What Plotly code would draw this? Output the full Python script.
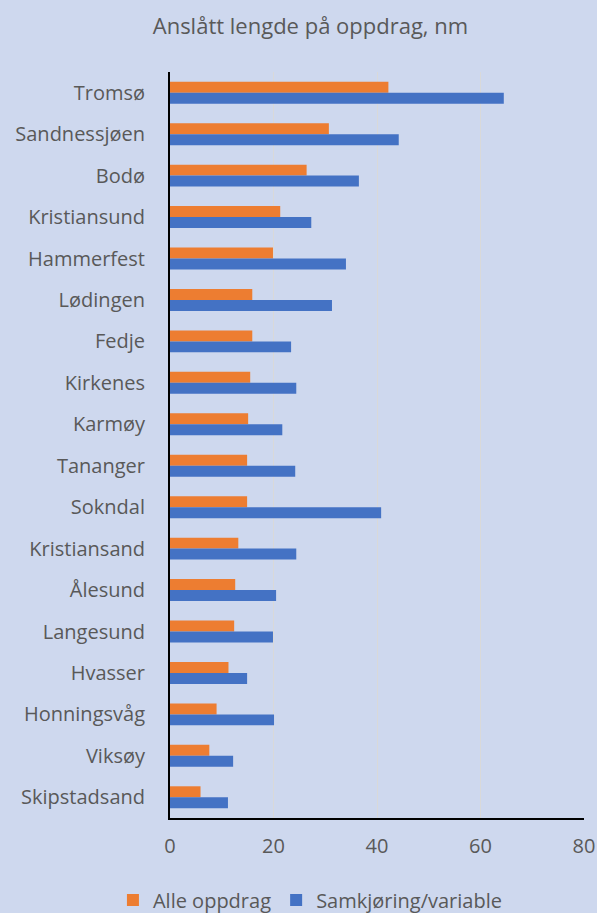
import plotly.graph_objects as go

categories = ["Tromsø", "Sandnessjøen", "Bodø", "Kristiansund", "Hammerfest", "Lødingen",
              "Fedje", "Kirkenes", "Karmøy", "Tananger", "Sokndal", "Kristiansand",
              "Ålesund", "Langesund", "Hvasser", "Honningsvåg", "Viksøy", "Skipstadsand"]
alle_oppdrag = [42.2, 30.7, 26.4, 21.3, 19.9, 15.9, 15.9, 15.5, 15.1, 14.9, 14.9, 13.2,
                12.6, 12.4, 11.3, 9.0, 7.6, 5.9]
samkjoring = [64.5, 44.2, 36.5, 27.3, 34.0, 31.3, 23.4, 24.4, 21.7, 24.2, 40.8, 24.4,
              20.5, 19.9, 14.9, 20.1, 12.2, 11.2]
x_ticks = [0, 20, 40, 60, 80]

bg = "#CED8EE"
txt = "#595959"
font_family = "Open Sans, Noto Sans, sans-serif"

fig = go.Figure()
fig.add_trace(go.Bar(y=categories, x=alle_oppdrag, orientation="h", name="Alle oppdrag",
                     marker=dict(color="#ED7D31", line=dict(width=0))))
fig.add_trace(go.Bar(y=categories, x=samkjoring, orientation="h", name="Samkjøring/variable",
                     marker=dict(color="#4472C4", line=dict(width=0))))

fig.update_layout(
    width=597, height=913,
    paper_bgcolor=bg, plot_bgcolor=bg,
    margin=dict(l=170, r=13, t=72, b=95, autoexpand=False),
    barmode="group", bargap=0.47, bargroupgap=0,
    font=dict(family=font_family, color=txt, size=20),
    title=dict(text="Anslått lengde på oppdrag, nm", x=0.52, xanchor="center",
               y=1 - 26 / 913, yanchor="middle", font=dict(size=22, color=txt)),
    legend=dict(orientation="h", xref="container", x=0.52, xanchor="center",
                yref="container", y=13 / 913, yanchor="middle", font=dict(size=20, color=txt),
                itemwidth=30, traceorder="normal"),
    showlegend=True,
)
fig.update_xaxes(range=[0, 80], tickvals=x_ticks, ticktext=[str(v) for v in x_ticks],
                 showgrid=True, gridcolor="#D9D9D9", gridwidth=1, zeroline=False,
                 showline=True, linecolor="black", linewidth=2, ticks="", automargin=False,
                 tickfont=dict(size=20, color=txt), ticklabelstandoff=9)
fig.update_yaxes(autorange="reversed", showline=True, linecolor="black", linewidth=2,
                 ticks="", showgrid=False, tickfont=dict(size=20, color=txt), automargin=False,
                 ticklabelstandoff=19)

fig.write_html("out.html", config={"displayModeBar": False},
               post_script="document.body.style.margin='0';")
